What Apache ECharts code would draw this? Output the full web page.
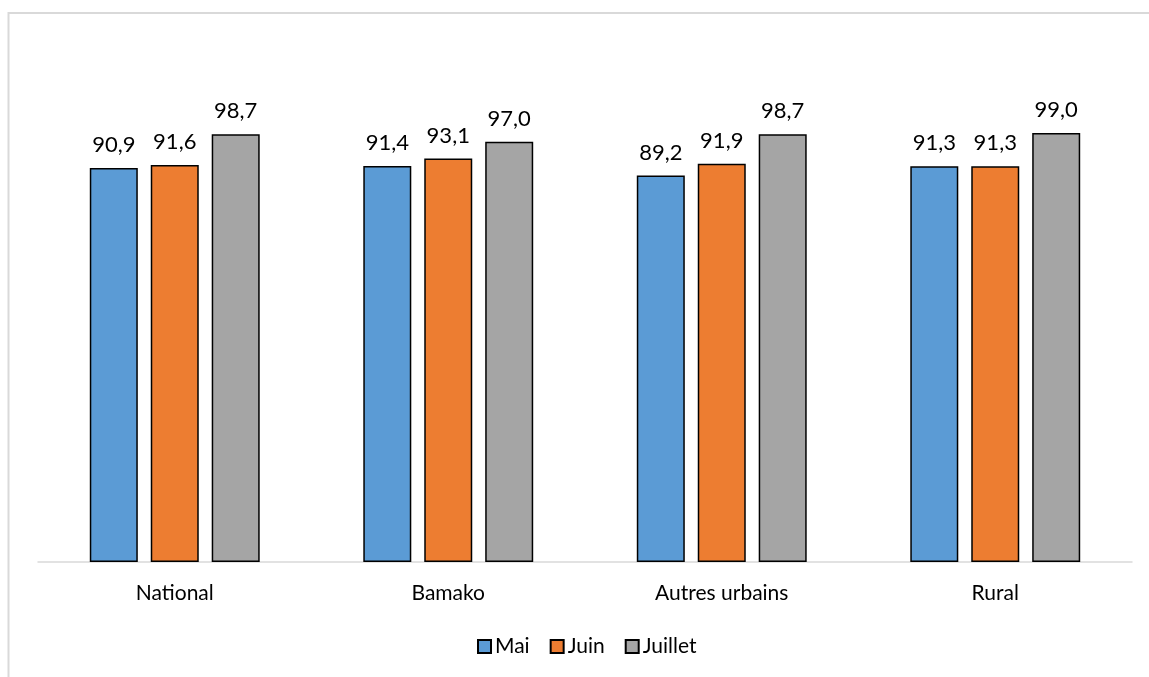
<!DOCTYPE html>
<html>
<head>
<meta charset="utf-8">
<script src="https://cdn.jsdelivr.net/npm/echarts@6/dist/echarts.min.js"></script>
<style>
html,body{margin:0;padding:0;background:#fff;}
#c{width:1149px;height:677px;}
</style>
</head>
<body>
<div id="c"></div>
<script>
const categories = ['National', 'Bamako', 'Autres urbains', 'Rural'];
const seriesNames = ['Mai', 'Juin', 'Juillet'];
const mai = [90.9, 91.4, 89.2, 91.3];
const juin = [91.6, 93.1, 91.9, 91.3];
const juillet = [98.7, 97.0, 98.7, 99.0];
const colors = ['#5B9BD5', '#ED7D31', '#A5A5A5'];

const font = 'Lato, "Open Sans", sans-serif';
const chart = echarts.init(document.getElementById('c'));
const mk = (name, data, color) => ({
  name: name,
  type: 'bar',
  data: data,
  barWidth: 48,
  barGap: '27%',
  itemStyle: { color: color, borderColor: '#000', borderWidth: 1.5 },
  label: {
    show: true, position: 'top', distance: 12,
    formatter: p => p.value.toFixed(1).replace('.', ','),
    fontFamily: font, fontSize: 22, color: '#000'
  }
});
chart.setOption({
  animation: false,
  backgroundColor: '#fff',
  graphic: [{
    type: 'rect', silent: true,
    shape: { x: 8.5, y: 13, width: 1300, height: 800 },
    style: { fill: 'none', stroke: '#d9d9d9', lineWidth: 2 }
  }],
  grid: { left: 38, right: 17, top: 42, bottom: 115 },
  legend: {
    bottom: 15, left: 472,
    icon: 'rect',
    itemWidth: 13, itemHeight: 13, itemGap: 20,
    textStyle: { fontFamily: font, fontSize: 21, color: '#000', padding: [0, 0, 0, -1] },
    data: seriesNames
  },
  xAxis: {
    type: 'category', data: categories,
    axisLine: { lineStyle: { color: '#d9d9d9', width: 1.5 } },
    axisTick: { show: false },
    axisLabel: { fontFamily: font, fontSize: 21, color: '#000', margin: 21 }
  },
  yAxis: {
    type: 'value', min: 0, max: 120, interval: 20,
    show: false, splitLine: { show: false }
  },
  series: [
    mk(seriesNames[0], mai, colors[0]),
    mk(seriesNames[1], juin, colors[1]),
    mk(seriesNames[2], juillet, colors[2])
  ]
});
</script>
</body>
</html>
